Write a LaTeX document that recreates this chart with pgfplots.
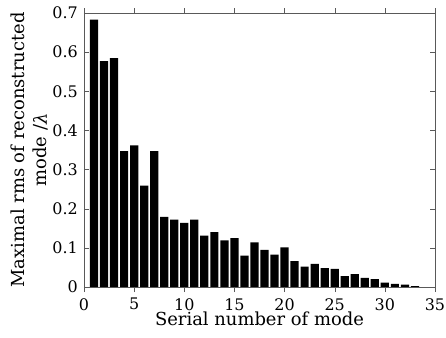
\documentclass[border=0pt]{standalone}
\usepackage{fontspec}
\setmainfont{DejaVu Serif}
\usepackage{pgfplots}
\pgfplotsset{compat=1.18}
\begin{document}
\begin{tikzpicture}
\begin{axis}[
  at={(0,0)}, anchor=south west,
  scale only axis,
  width=351bp, height=274bp,
  xmin=0, xmax=35, ymin=0, ymax=0.7,
  xtick={0,5,...,35},
  ytick={0,0.1,...,0.7},
  /pgf/number format/assume math mode=true,
  yticklabel style={/pgf/number format/fixed,/pgf/number format/precision=1},
  tick label style={font=\fontsize{16}{18}\selectfont},
  xticklabel style={anchor=north, inner sep=0pt, yshift=-6bp},
  yticklabel style={anchor=east, inner sep=0pt, xshift=-6bp},
  xlabel={Serial number of mode},
  ylabel={Maximal rms of reconstructed\\mode /\textit{λ}},
  xlabel style={font=\fontsize{18}{22}\selectfont, at={(axis description cs:0.5,-0.142)}, anchor=base},
  ylabel style={font=\fontsize{18}{22}\selectfont, align=center, at={(axis description cs:-0.154,0.5)}, anchor=center},
  axis line style={gray!70!black},
  tick style={gray!70!black, major tick length=5bp},
  ybar, bar width=0.82,
]
\addplot[fill=black, draw=none] coordinates {
(1,0.683) (2,0.577) (3,0.585) (4,0.347) (5,0.362) (6,0.259) (7,0.347)
(8,0.179) (9,0.172) (10,0.164) (11,0.172) (12,0.131) (13,0.140) (14,0.119)
(15,0.125) (16,0.080) (17,0.114) (18,0.095) (19,0.083) (20,0.101)
(21,0.066) (22,0.052) (23,0.059) (24,0.048) (25,0.046) (26,0.028)
(27,0.033) (28,0.023) (29,0.020) (30,0.011) (31,0.008) (32,0.006) (33,0.002)
};
\end{axis}
\pgfresetboundingbox
\path (-84bp,-51bp) rectangle (362bp,287bp);
\end{tikzpicture}
\end{document}
